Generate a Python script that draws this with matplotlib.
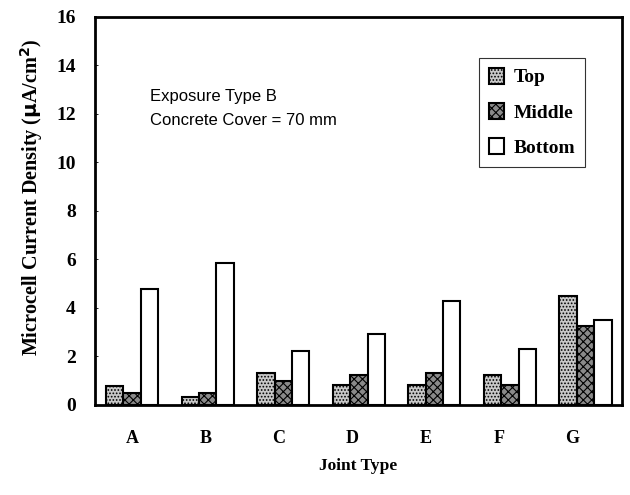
import numpy as np
import matplotlib.pyplot as plt

# values
joints = ['A', 'B', 'C', 'D', 'E', 'F', 'G']
top = [0.78, 0.32, 1.33, 0.82, 0.82, 1.24, 4.5]
middle = [0.5, 0.5, 1.0, 1.24, 1.33, 0.82, 3.26]
bottom = [4.78, 5.87, 2.24, 2.93, 4.3, 2.3, 3.5]
y_ticks = [0, 2, 4, 6, 8, 10, 12, 14, 16]

plt.rcParams['hatch.linewidth'] = 0.8
serif = 'Liberation Serif'

fig = plt.figure(figsize=(6.3, 4.95), dpi=100)
ax = fig.add_axes([0.151, 0.182, 0.836, 0.784])

x = np.arange(len(joints))
w = 0.23
ax.bar(x - w, top, w, color='#c8c8c8', edgecolor='black', hatch='.....',
       linewidth=1.5, label='Top')
ax.bar(x, middle, w, color='#8a8a8a', edgecolor='black', hatch='xxxx',
       linewidth=1.5, label='Middle')
ax.bar(x + w, bottom, w, color='white', edgecolor='black',
       linewidth=1.5, label='Bottom')

ax.set_xlim(-0.49, 6.48)
ax.set_ylim(0, 16)
ax.set_yticks(y_ticks)
ax.set_xticks(x - 0.03 * x)
ax.set_xticklabels(joints)
ax.tick_params(axis='x', length=0, pad=18)
ax.tick_params(axis='y', direction='in', length=2, width=0.6, pad=14)
for lbl in ax.get_yticklabels():
    lbl.set_fontfamily(serif)
    lbl.set_fontweight('bold')
    lbl.set_fontsize(14)
for lbl in ax.get_xticklabels():
    lbl.set_fontfamily(serif)
    lbl.set_fontweight('bold')
    lbl.set_fontsize(13)

for sp in ax.spines.values():
    sp.set_linewidth(2)

ax.set_ylabel(r'Microcell Current Density ($\mathbf{\mu}$A/cm$^\mathbf{2}$)',
              family=serif, fontweight='bold', fontsize=14.5)
ax.yaxis.set_label_coords(-0.096, 0.535)
ax.set_xlabel('Joint Type', family=serif, fontweight='bold', fontsize=12.5,
              labelpad=8)

ax.text(0.105, 0.794, 'Exposure Type B', transform=ax.transAxes,
        family='Liberation Sans', fontsize=12, va='center')
ax.text(0.105, 0.732, 'Concrete Cover = 70 mm', transform=ax.transAxes,
        family='Liberation Sans', fontsize=12, va='center')

leg = ax.legend(loc='upper right', bbox_to_anchor=(0.931, 0.894),
                borderaxespad=0,
                prop={'family': serif, 'weight': 'bold', 'size': 14},
                frameon=True, fancybox=False, edgecolor='black',
                handlelength=0.8, handleheight=0.9, handletextpad=0.5,
                labelspacing=0.85, borderpad=0.5)
leg.get_frame().set_linewidth(0.8)

fig.savefig('out.png', dpi=100)
